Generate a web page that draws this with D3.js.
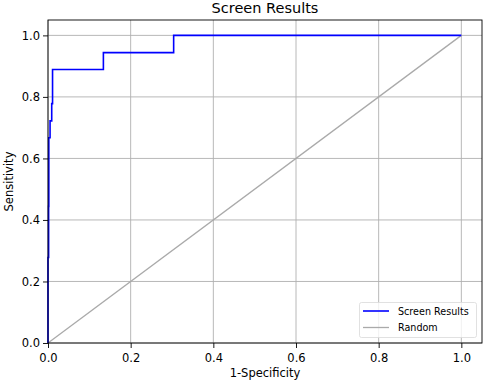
<!DOCTYPE html>
<html><head><meta charset="utf-8">
<script src="https://cdn.jsdelivr.net/npm/d3@7"></script>
<style>body{margin:0;background:#fff}svg{display:block}text{font-family:"DejaVu Sans",sans-serif;fill:#000}</style>
</head><body><svg id="c" width="484" height="383"></svg>
<script>
const title = "Screen Results";
const xLabel = "1-Specificity";
const yLabel = "Sensitivity";
const fpr = [0, 0, 0.0015, 0.0015, 0.002, 0.002, 0.005, 0.005, 0.009, 0.009, 0.011, 0.011, 0.134, 0.134, 0.304, 0.304, 1];
const tpr = [0, 0.278, 0.278, 0.444, 0.444, 0.667, 0.667, 0.722, 0.722, 0.778, 0.778, 0.889, 0.889, 0.944, 0.944, 1, 1];
const randomX = [0, 1];
const randomY = [0, 1];
const ticks = [0, 0.2, 0.4, 0.6, 0.8, 1.0];
const seriesNames = ["Screen Results", "Random"];
const seriesColors = ["#0000ff", "#aaaaaa"];

const svg = d3.select("#c");
const L = 48, R = 482, T = 20, B = 343;
const x = d3.scaleLinear().domain([0, 1.05]).range([L, R]);
const y = d3.scaleLinear().domain([0, 1.05]).range([B, T]);

// grid
const g = svg.append("g");
ticks.forEach(t => {
  g.append("line").attr("x1", x(t)).attr("x2", x(t)).attr("y1", T).attr("y2", B)
    .attr("stroke", "#b0b0b0").attr("stroke-width", 0.9);
  g.append("line").attr("y1", y(t)).attr("y2", y(t)).attr("x1", L).attr("x2", R)
    .attr("stroke", "#b0b0b0").attr("stroke-width", 0.9);
});

const line = d3.line().x(d => x(d[0])).y(d => y(d[1]));
svg.append("path").datum(randomX.map((v, i) => [v, randomY[i]])).attr("d", line)
  .attr("fill", "none").attr("stroke", seriesColors[1]).attr("stroke-width", 1.3);
svg.append("path").datum(fpr.map((v, i) => [v, tpr[i]])).attr("d", line)
  .attr("fill", "none").attr("stroke", seriesColors[0]).attr("stroke-width", 1.6);

// axes
const xAxis = d3.axisBottom(x).tickValues(ticks).tickFormat(d3.format(".1f")).tickSize(5).tickPadding(5.5);
const yAxis = d3.axisLeft(y).tickValues(ticks).tickFormat(d3.format(".1f")).tickSize(5).tickPadding(3);
const gx = svg.append("g").attr("transform", `translate(0,${B})`).call(xAxis);
const gy = svg.append("g").attr("transform", `translate(${L},0)`).call(yAxis);
[gx, gy].forEach(a => {
  a.select(".domain").remove();
  a.selectAll("text").attr("font-size", 11.5).attr("font-family", "DejaVu Sans").attr("fill", "#000");
  a.selectAll("line").attr("stroke", "#000").attr("stroke-width", 0.9);
});
svg.append("rect").attr("x", L).attr("y", T).attr("width", R - L).attr("height", B - T)
  .attr("fill", "none").attr("stroke", "#000").attr("stroke-width", 0.9);

svg.append("text").attr("x", (L + R) / 2).attr("y", 13).attr("text-anchor", "middle")
  .attr("font-size", 14.5).text(title);
svg.append("text").attr("x", (L + R) / 2).attr("y", 377).attr("text-anchor", "middle")
  .attr("font-size", 11.5).text(xLabel);
svg.append("text").attr("transform", `translate(12.5,${(T + B) / 2}) rotate(-90)`).attr("text-anchor", "middle")
  .attr("font-size", 11.5).text(yLabel);

// legend
const lg = svg.append("g");
lg.append("rect").attr("x", 359.5).attr("y", 302.5).attr("width", 117).attr("height", 35).attr("rx", 2)
  .attr("fill", "#fff").attr("fill-opacity", 0.8).attr("stroke", "#d9d9d9").attr("stroke-width", 0.8);
seriesNames.forEach((n, i) => {
  const yy = 311 + i * 16.5;
  lg.append("line").attr("x1", 363).attr("x2", 389).attr("y1", yy).attr("y2", yy)
    .attr("stroke", seriesColors[i]).attr("stroke-width", i === 0 ? 1.6 : 1.3);
  lg.append("text").attr("x", 398).attr("y", yy + 3.5).attr("font-size", 9.6).text(n);
});
</script></body></html>
